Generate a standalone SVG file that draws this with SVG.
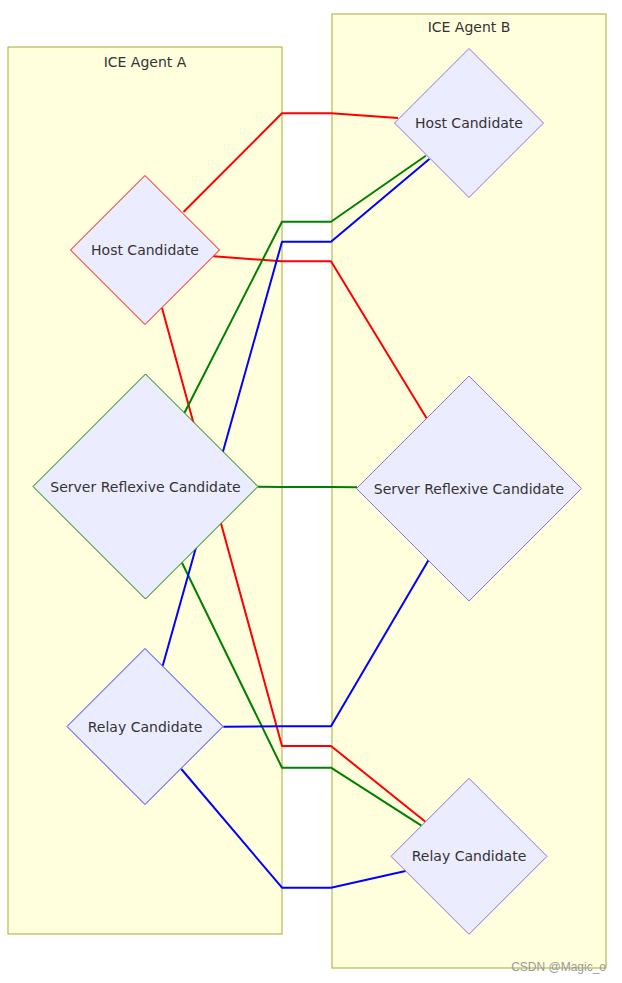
<svg xmlns="http://www.w3.org/2000/svg" width="622" height="983" viewBox="0 0 622 983">
<style>
.cluster{fill:#ffffde;stroke:#aaaa33;stroke-width:1}
.ctitle{font-family:"DejaVu Sans",sans-serif;font-size:14px;fill:#333;text-anchor:middle}
.node polygon{fill:#ececff;stroke:#9370db;stroke-width:1}
.node text{font-family:"DejaVu Sans",sans-serif;font-size:14px;fill:#333;text-anchor:middle;dominant-baseline:central}
.edge{fill:none;stroke-width:2;stroke-linejoin:round}
.r{stroke:#ff0000}
.g{stroke:#008000}
.b{stroke:#0000ff}
</style>
<g id="clusters">
<g id="agentA"><rect class="cluster" x="8" y="47" width="274" height="887"/><text class="ctitle" x="145" y="67">ICE Agent A</text></g>
<g id="agentB"><rect class="cluster" x="332" y="14" width="274" height="954"/><text class="ctitle" x="469" y="32">ICE Agent B</text></g>
</g>
<g id="connectors">
<polyline class="edge r" points="183.5,212 282,113.3 331,113.3 398,118"/>
<polyline class="edge r" points="213.5,256.3 282,261.3 331,261.3 426.6,418.3"/>
<polyline class="edge r" points="162,308 282,746 331,746 425.4,821.7"/>
<polyline class="edge g" points="184.5,412.7 282,221.7 331,221.7 425.8,155.7"/>
<polyline class="edge g" points="258,486.7 282,487 331,487 357,487.3"/>
<polyline class="edge g" points="182,562.7 282,767.7 331,767.7 421.4,825.7"/>
<polyline class="edge b" points="162.7,665.7 282,241.7 331,241.7 429.4,159"/>
<polyline class="edge b" points="223.4,726.7 282,726.3 331,726.3 428.6,560"/>
<polyline class="edge b" points="181.3,769 282,887.7 331,887.7 405.6,871"/>
</g>
<g id="A_host" class="node"><polygon points="145,175.5 219.5,250 145,324.5 70.5,250" style="stroke:#ff0000"/><text x="145" y="250">Host Candidate</text></g>
<g id="A_srflx" class="node"><polygon points="145.5,374 258,486.5 145.5,599 33,486.5" style="stroke:#008000"/><text x="145.5" y="486.5">Server Reflexive Candidate</text></g>
<g id="A_relay" class="node"><polygon points="145,648.5 223,726.5 145,804.5 67,726.5" style="stroke:#3333ff"/><text x="145" y="726.5">Relay Candidate</text></g>
<g id="B_host" class="node"><polygon points="469,48.5 543.5,123 469,197.5 394.5,123"/><text x="469" y="123">Host Candidate</text></g>
<g id="B_srflx" class="node"><polygon points="469,376 581.5,488.5 469,601 356.5,488.5"/><text x="469" y="488.5">Server Reflexive Candidate</text></g>
<g id="B_relay" class="node"><polygon points="469,778.3 547,856.3 469,934.3 391,856.3"/><text x="469" y="856.3">Relay Candidate</text></g>
<text x="606" y="971" style="font-family:'Liberation Sans',sans-serif;font-size:12px;fill:#999;text-anchor:end">CSDN @Magic_o</text>
</svg>
